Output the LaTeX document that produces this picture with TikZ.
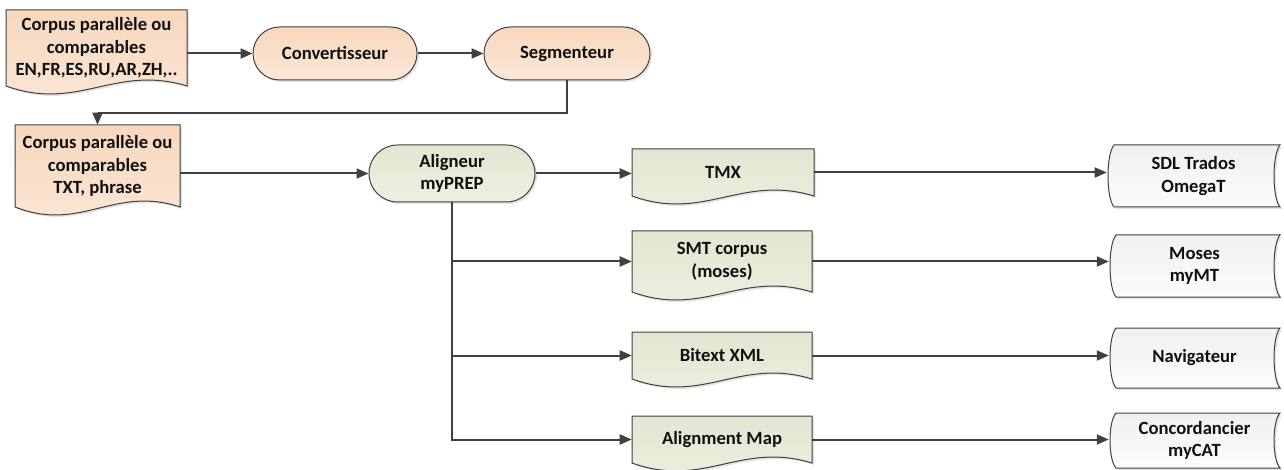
\documentclass[tikz,border=0pt]{standalone}
\usepackage{fontspec}
\setmainfont{Carlito}
\usetikzlibrary{shapes.misc,shadows,arrows.meta}
\definecolor{edgec}{HTML}{404040}
\definecolor{textc}{HTML}{111111}
\definecolor{orT}{HTML}{F8D8BE}
\definecolor{orB}{HTML}{FBE7D8}
\definecolor{grT}{HTML}{E1E7D0}
\definecolor{grB}{HTML}{EDF0E3}
\definecolor{wtT}{HTML}{F0F0F0}
\definecolor{wtB}{HTML}{FCFCFC}
\tikzset{
  sh/.style={drop shadow={opacity=0.22,shadow xshift=1.5pt,shadow yshift=-1.5pt}},
  lbl/.style={font=\fontsize{14}{17}\selectfont\bfseries, text=textc, align=center, inner sep=0pt},
  orfill/.style={top color=orT,bottom color=orB},
  grfill/.style={top color=grT,bottom color=grB},
  wtfill/.style={top color=wtT,bottom color=wtB},
  shp/.style={draw=edgec,line width=0.75pt},
  term/.style={rounded rectangle, shp, sh, lbl},
  arr/.style={draw=edgec,line width=1.5pt,-{Triangle[length=9pt,width=7.5pt]}}
}
\newcommand\docnode[7]{%
  \path[shp,sh,#6] (#2,#3) -- (#4,#3) -- (#4,#5)
    .. controls ({#2+0.6*(#4-#2)},{#5-22}) and ({#2+0.4*(#4-#2)},{#5+26}) .. (#2,#5) -- cycle;
  \node[lbl, minimum width={(#4-#2)*0.75pt}, minimum height={(#5-#3)*0.75pt}] (#1)
    at ({(#2+#4)/2},{(#3+#5)/2}) {#7};}
\newcommand\storenode[6]{%
  \path[shp,sh,wtfill] ({#2+7},#3) -- (#4,#3)
    .. controls ({#4-8},{#3+0.15*(#5-#3)}) and ({#4-8},{#5-0.15*(#5-#3)}) .. (#4,#5)
    -- ({#2+7},#5)
    .. controls ({#2-1},{#5-0.15*(#5-#3)}) and ({#2-1},{#3+0.15*(#5-#3)}) .. ({#2+7},#3) -- cycle;
  \node[lbl, minimum width={(#4-#2)*0.75pt}, minimum height={(#5-#3)*0.75pt}] (#1)
    at ({(#2+#4)/2},{(#3+#5)/2}) {#6};}
\begin{document}
\begin{tikzpicture}[x=0.75pt,y=-0.75pt]
\useasboundingbox (0,0) rectangle (1284,470);
% documents
\docnode{doc1}{6}{10}{187}{86}{orfill}{Corpus parallèle ou\\comparables\\EN,FR,ES,RU,AR,ZH,..}
\docnode{doc2}{15}{125}{180}{207}{orfill}{Corpus parallèle ou\\comparables\\TXT, phrase}
\docnode{tmx}{632}{149}{814}{196}{grfill}{TMX}
\docnode{smt}{632}{231}{812}{292}{grfill}{SMT corpus\\(moses)}
\docnode{bit}{632}{332}{812}{379}{grfill}{Bitext XML}
\docnode{amap}{632}{416}{812}{463}{grfill}{Alignment Map}
% terminators
\node[term, orfill, minimum width=123pt, minimum height=39.75pt] (conv) at (335,53.5) {Convertisseur};
\node[term, orfill, minimum width=124.5pt, minimum height=39.75pt] (seg) at (567,53.5) {Segmenteur};
\node[term, grfill, minimum width=124.5pt, minimum height=42.75pt] (ali) at (452,173.5) {Aligneur\\myPREP};
% stored data
\storenode{sdl}{1107}{145}{1280}{207}{SDL Trados\\OmegaT}
\storenode{mos}{1109}{235}{1280}{297}{Moses\\myMT}
\storenode{nav}{1109}{328}{1280}{388}{Navigateur}
\storenode{conc}{1109}{413}{1280}{468}{Concordancier\\myCAT}
% connectors
\draw[arr] (doc1.east |- conv.west) -- (conv.west);
\draw[arr] (conv.east) -- (seg.west);
\draw[arr] (seg.south) -- ++(0,33) -| (doc2.north);
\draw[arr] (doc2.east |- ali.west) -- (ali.west);
\draw[arr] (ali.east) -- (ali.east -| tmx.west);
\draw[arr] (ali.south) |- (smt.west);
\draw[arr] (ali.south) |- (bit.west);
\draw[arr] (ali.south) |- (amap.west);
\draw[arr] (tmx.east) -- (tmx.east -| sdl.west);
\draw[arr] (smt.east) -- (smt.east -| mos.west);
\draw[arr] (bit.east) -- (bit.east -| nav.west);
\draw[arr] (amap.east) -- (amap.east -| conc.west);
\end{tikzpicture}
\end{document}
